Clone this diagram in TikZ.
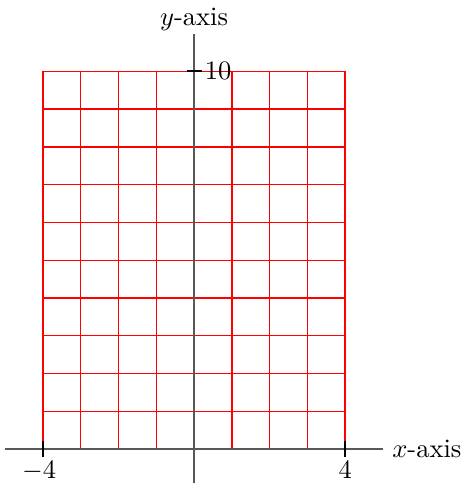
\documentclass[tikz,border=0pt]{standalone}
\begin{document}
\begin{tikzpicture}[x=0.5cm,y=0.5cm,
  axisline/.style={draw=black!65,line width=0.5pt},
  tickmark/.style={draw=black,line width=0.7pt},
  gridline/.style={color=red,line width=0.5pt}]
\useasboundingbox (-5.14,-0.9) rectangle (7.07,11.89);
\draw[gridline,xstep=0.5cm,ystep=0.5cm] (-4,0) grid (4,10);
\coordinate (xl) at (-5,0);
\coordinate (xr) at (5,0);
\coordinate (yb) at (0,-1);
\coordinate (yt) at (0,11);
\draw[axisline] (xl) -- (xr);
\draw[axisline] (yb) -- (yt);
\node[anchor=west] (xlab) at (xr) {$x$-axis};
\node[anchor=south,inner sep=1pt] (ylab) at (yt) {$y$-axis};
\coordinate (ta1) at (-4,0.2); \coordinate (ta2) at (-4,-0.2);
\coordinate (tb1) at (4,0.2); \coordinate (tb2) at (4,-0.2);
\coordinate (tc1) at (-0.2,10); \coordinate (tc2) at (0.2,10);
\draw[tickmark] (ta1) -- (ta2);
\draw[tickmark] (tb1) -- (tb2);
\draw[tickmark] (tc1) -- (tc2);
\node[anchor=north,xshift=-1.5pt,inner sep=1.5pt] (lm4) at (ta2) {$-4$};
\node[anchor=north,inner sep=1.5pt] (lp4) at (tb2) {$4$};
\node[anchor=west,inner sep=1pt] (l10) at (tc2) {$10$};
\end{tikzpicture}
\end{document}
